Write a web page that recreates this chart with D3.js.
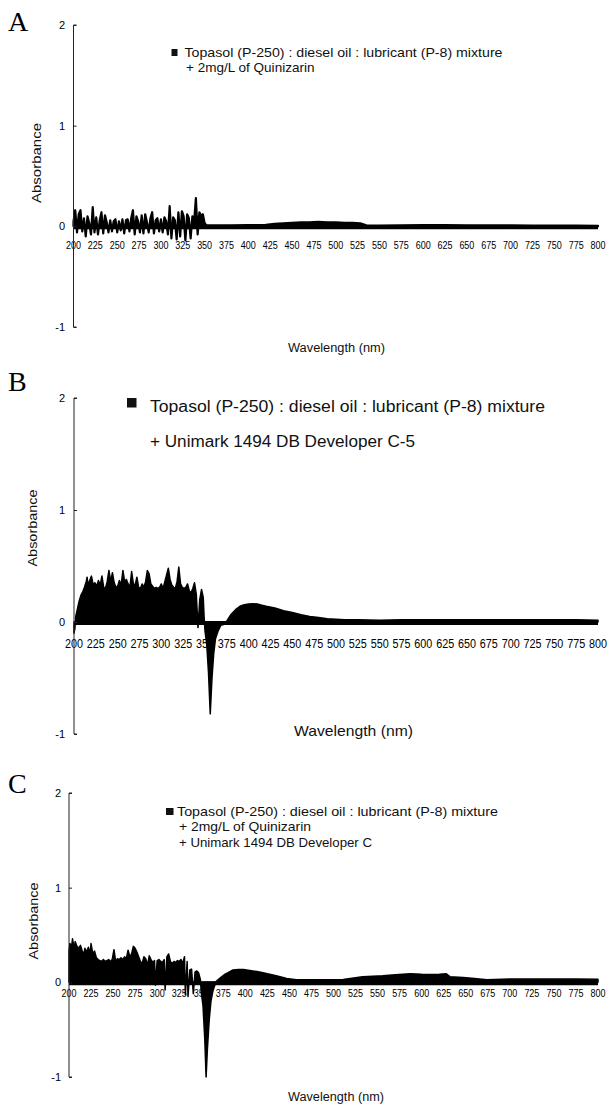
<!DOCTYPE html>
<html>
<head>
<meta charset="utf-8">
<script src="https://cdn.jsdelivr.net/npm/d3@7"></script>
<style>
  html, body { margin: 0; padding: 0; background: #fff; }
  svg { display: block; }
  text { font-family: "Liberation Sans", Arial, sans-serif; fill: #111; }
</style>
</head>
<body>
<svg id="viz" width="610" height="1106"></svg>
<script>
// ---- data ----
const xTickValues = [200, 225, 250, 275, 300, 325, 350, 375, 400, 425, 450, 475, 500,
  525, 550, 575, 600, 625, 650, 675, 700, 725, 750, 775, 800];
const yTickValues = [-1, 0, 1, 2];

const wavelengthA = [200, 202, 204, 206, 208, 210, 212, 214, 216, 218, 220, 222, 224, 226, 228,
  230, 232, 234, 236, 238, 240, 242, 244, 246, 248, 250, 252, 254, 256, 258, 260, 262, 264,
  266, 268, 270, 272, 274, 276, 278, 280, 282, 284, 286, 288, 290, 292, 294, 296, 298, 300,
  302, 304, 306, 308, 310, 312, 314, 316, 318, 320, 322, 324, 326, 328, 330, 332, 334, 336,
  338, 340, 342, 344, 346, 348, 350, 352, 360, 380, 400, 420, 430, 440, 450, 460, 470, 480,
  490, 500, 510, 520, 528, 535, 550, 575, 600, 625, 650, 675, 700, 725, 750, 775, 800];
const absorbanceA = [0.05, 0.16, -0.06, 0.12, 0.16, -0.05, 0.08, -0.10, 0.10, 0.03, -0.08, 0.19,
  -0.06, 0.09, -0.08, 0.06, 0.14, -0.07, 0.11, 0.04, -0.06, 0.06, -0.05, 0.05, 0.07, -0.06,
  0.05, -0.04, 0.07, -0.07, 0.06, 0.07, -0.05, 0.08, 0.16, -0.08, 0.10, 0.05, -0.06, 0.11,
  -0.07, 0.12, 0.04, -0.06, 0.08, 0.14, -0.07, 0.06, 0.08, -0.05, 0.07, -0.06, 0.09, 0.05,
  -0.08, 0.20, -0.12, 0.09, 0.06, -0.13, 0.14, -0.10, 0.15, 0.10, -0.14, 0.12, 0.08, -0.12,
  0.10, 0.05, 0.28, -0.08, 0.14, 0.10, 0.12, 0.03, 0.01, 0.01, 0.01, 0.012, 0.015, 0.025,
  0.03, 0.035, 0.04, 0.04, 0.045, 0.04, 0.04, 0.035, 0.035, 0.03, 0.01, 0.008, 0.01, 0.012,
  0.012, 0.01, 0.01, 0.01, 0.008, 0.008, 0.008, 0.005];

const wavelengthB = [200, 201, 202, 204, 206, 208, 210, 212, 214, 215, 216, 218, 220, 222, 224,
  226, 228, 230, 232, 234, 236, 238, 240, 242, 244, 246, 248, 250, 252, 254, 256, 258, 260,
  262, 264, 266, 268, 270, 272, 274, 276, 278, 280, 282, 284, 286, 288, 290, 292, 294, 296,
  298, 300, 302, 304, 306, 308, 310, 312, 314, 316, 318, 320, 322, 324, 326, 328, 330, 332,
  334, 336, 338, 340, 342, 344, 346, 348, 349, 350, 352, 354, 356, 358, 360, 362, 365, 368,
  372, 375, 380, 385, 390, 395, 400, 405, 410, 415, 420, 430, 440, 450, 460, 470, 480, 490,
  500, 510, 525, 550, 575, 600, 625, 650, 675, 700, 725, 750, 775, 800];
const absorbanceB = [-0.10, -0.06, 0.05, 0.12, 0.19, 0.24, 0.27, 0.31, 0.36, 0.40, 0.33, 0.37,
  0.41, 0.33, 0.35, 0.32, 0.37, 0.33, 0.41, 0.31, 0.30, 0.36, 0.46, 0.36, 0.44, 0.35, 0.31,
  0.32, 0.37, 0.33, 0.46, 0.36, 0.38, 0.34, 0.31, 0.45, 0.34, 0.33, 0.40, 0.31, 0.30, 0.34,
  0.31, 0.36, 0.46, 0.43, 0.34, 0.32, 0.30, 0.31, 0.30, 0.31, 0.34, 0.30, 0.36, 0.42, 0.48,
  0.38, 0.33, 0.31, 0.30, 0.36, 0.49, 0.34, 0.31, 0.30, 0.31, 0.34, 0.28, 0.26, 0.30, 0.35,
  0.25, -0.05, 0.20, 0.29, 0.22, 0.04, -0.08, -0.20, -0.45, -0.82, -0.50, -0.28, -0.15,
  -0.08, -0.03, -0.02, 0.01, 0.07, 0.11, 0.14, 0.155, 0.16, 0.163, 0.16, 0.15, 0.14, 0.125,
  0.10, 0.085, 0.065, 0.05, 0.04, 0.03, 0.025, 0.02, 0.02, 0.015, 0.02, 0.02, 0.02, 0.02,
  0.02, 0.02, 0.02, 0.02, 0.02, 0.015];

const wavelengthC = [200, 201, 203, 204, 206, 207, 209, 211, 213, 215, 217, 218, 220, 222, 224,
  225, 227, 229, 231, 233, 235, 237, 239, 241, 243, 245, 247, 249, 251, 253, 255, 257, 259,
  261, 263, 265, 267, 269, 271, 273, 275, 277, 279, 281, 283, 285, 287, 289, 291, 293, 295,
  297, 298, 300, 302, 304, 306, 308, 309, 311, 313, 315, 317, 319, 321, 323, 325, 327, 329,
  331, 332, 334, 335, 337, 339, 341, 343, 345, 347, 349, 350, 352, 354, 355.5, 357, 359, 361,
  363, 365, 367, 372, 376, 380, 386, 392, 398, 405, 416, 425, 435, 447, 458, 470, 485, 500,
  511, 519, 533, 556, 570, 587, 600, 609, 620, 628, 632, 647, 660, 674, 700, 725, 750, 775, 800];
const absorbanceC = [0.33, 0.41, 0.38, 0.46, 0.35, 0.43, 0.38, 0.36, 0.39, 0.33, 0.30, 0.36,
  0.32, 0.37, 0.30, 0.41, 0.30, 0.33, 0.26, 0.24, 0.23, 0.22, 0.24, 0.22, 0.23, 0.24, 0.22,
  0.24, 0.345, 0.22, 0.25, 0.24, 0.26, 0.24, 0.27, 0.25, 0.34, 0.27, 0.30, 0.38, 0.36, 0.32,
  0.27, 0.22, 0.20, 0.27, 0.25, 0.18, 0.28, 0.24, 0.21, 0.23, -0.03, 0.23, 0.24, 0.22, 0.21,
  0.24, -0.08, 0.27, 0.30, 0.22, 0.20, 0.22, 0.21, 0.23, 0.22, 0.24, 0.20, 0.27, -0.13, 0.22,
  -0.15, 0.13, 0.14, -0.12, 0.11, 0.12, 0.10, 0.03, -0.10, -0.25, -0.60, -1.00, -0.70, -0.40,
  -0.20, -0.10, -0.04, 0.01, 0.05, 0.08, 0.10, 0.13, 0.135, 0.135, 0.125, 0.11, 0.09, 0.07,
  0.04, 0.028, 0.028, 0.028, 0.028, 0.03, 0.04, 0.06, 0.07, 0.08, 0.09, 0.085, 0.084, 0.085,
  0.09, 0.06, 0.05, 0.04, 0.028, 0.035, 0.035, 0.035, 0.035, 0.032];

const legendA = ['Topasol (P-250) : diesel oil : lubricant (P-8) mixture', '+ 2mg/L of Quinizarin'];
const legendB = ['Topasol (P-250) : diesel oil : lubricant (P-8) mixture', '+ Unimark 1494 DB Developer C-5'];
const legendC = ['Topasol (P-250) : diesel oil : lubricant (P-8) mixture', '+ 2mg/L of Quinizarin',
  '+ Unimark 1494 DB Developer C'];

// ---- layout of each panel (pixels) ----
const panels = [
  { letter: 'A', letterY: 31, wl: wavelengthA, abs: absorbanceA, legend: legendA,
    x0: 73.5, x1: 598, yTop: 25, yBot: 327, tickY: 249, tickFont: 11, tickLen: 15, yLabX: 65,
    sq: [171.5, 49, 6, 7], legFont: 13, lineW: 2.2,
    legLines: [[184.5, 57, 318], [186, 72, 128.5]],
    xTitle: [288, 352, 97, 12], yTitle: [41, 163, 80, 13] },
  { letter: 'B', letterY: 391, wl: wavelengthB, abs: absorbanceB, legend: legendB,
    x0: 74, x1: 598, yTop: 398, yBot: 734, tickY: 647.5, tickFont: 12, tickLen: 18, yLabX: 65,
    sq: [127, 398, 9.5, 9.5], legFont: 16, lineW: 1.5,
    legLines: [[150, 412, 395], [150, 446.5, 265]],
    xTitle: [294, 736, 119, 15], yTitle: [37, 528, 77, 12] },
  { letter: 'C', letterY: 793, wl: wavelengthC, abs: absorbanceC, legend: legendC,
    x0: 69, x1: 598, yTop: 793, yBot: 1077, tickY: 997, tickFont: 11, tickLen: 15, yLabX: 61,
    sq: [166, 808, 7.5, 7], legFont: 13, lineW: 1.5,
    legLines: [[177, 816, 321], [179, 831, 132], [179, 846.5, 193]],
    xTitle: [288, 1101, 96, 12], yTitle: [38, 921, 77, 12] }
];

const svg = d3.select('#viz');

panels.forEach((p) => {
  const g = svg.append('g');
  const x = d3.scaleLinear().domain([200, 800]).range([p.x0, p.x1]);
  const y = d3.scaleLinear().domain([-1, 2]).range([p.yBot, p.yTop]);

  g.append('text')
    .attr('x', 8).attr('y', p.letterY)
    .style('font-family', '"Liberation Serif", "Times New Roman", serif')
    .style('font-size', '28px')
    .style('fill', '#000')
    .text(p.letter);

  // x tick labels sit under the trace, so draw them first
  g.append('g').selectAll('text')
    .data(xTickValues)
    .join('text')
    .attr('x', (d) => x(d))
    .attr('y', p.tickY)
    .attr('text-anchor', 'middle')
    .attr('textLength', p.tickLen)
    .attr('lengthAdjust', 'spacingAndGlyphs')
    .style('font-size', p.tickFont + 'px')
    .style('fill', '#000')
    .text((d) => d);

  const area = d3.area()
    .x((d) => x(d[0]))
    .y0(y(0))
    .y1((d) => y(d[1]));

  g.append('path')
    .datum(d3.zip(p.wl, p.abs))
    .attr('d', area)
    .attr('fill', '#000')
    .attr('stroke', '#000')
    .attr('stroke-width', p.lineW)
    .attr('stroke-linejoin', 'round');

  // zero line (thick band in the scan)
  g.append('line')
    .attr('x1', x(200)).attr('x2', x(800))
    .attr('y1', y(0) + 1).attr('y2', y(0) + 1)
    .attr('stroke', '#000').attr('stroke-width', 4);

  // y axis
  const yAxis = d3.axisRight(y).tickValues(yTickValues).tickSize(3).tickFormat('');
  g.append('g')
    .attr('transform', `translate(${p.x0},0)`)
    .call(yAxis)
    .call((s) => s.select('.domain').attr('stroke', '#222').attr('d', `M3,${p.yTop}H0V${p.yBot}H3`))
    .call((s) => s.selectAll('.tick line').attr('stroke', '#222'));

  g.append('g').selectAll('text')
    .data(yTickValues)
    .join('text')
    .attr('x', p.yLabX)
    .attr('y', (d) => y(d) + 4)
    .attr('text-anchor', 'end')
    .style('font-size', '11px')
    .style('fill', '#000')
    .text((d) => d);

  // legend
  g.append('rect')
    .attr('x', p.sq[0]).attr('y', p.sq[1])
    .attr('width', p.sq[2]).attr('height', p.sq[3])
    .attr('fill', '#111');
  g.append('g').selectAll('text')
    .data(p.legend)
    .join('text')
    .attr('x', (d, i) => p.legLines[i][0])
    .attr('y', (d, i) => p.legLines[i][1])
    .attr('textLength', (d, i) => p.legLines[i][2])
    .attr('lengthAdjust', 'spacingAndGlyphs')
    .style('font-size', p.legFont + 'px')
    .text((d) => d);

  // axis titles
  g.append('text')
    .attr('x', p.xTitle[0]).attr('y', p.xTitle[1])
    .attr('textLength', p.xTitle[2])
    .attr('lengthAdjust', 'spacingAndGlyphs')
    .style('font-size', p.xTitle[3] + 'px')
    .text('Wavelength (nm)');

  g.append('text')
    .attr('transform', `translate(${p.yTitle[0]},${p.yTitle[1]}) rotate(-90)`)
    .attr('text-anchor', 'middle')
    .attr('textLength', p.yTitle[2])
    .attr('lengthAdjust', 'spacingAndGlyphs')
    .style('font-size', p.yTitle[3] + 'px')
    .text('Absorbance');
});
</script>
</body>
</html>
